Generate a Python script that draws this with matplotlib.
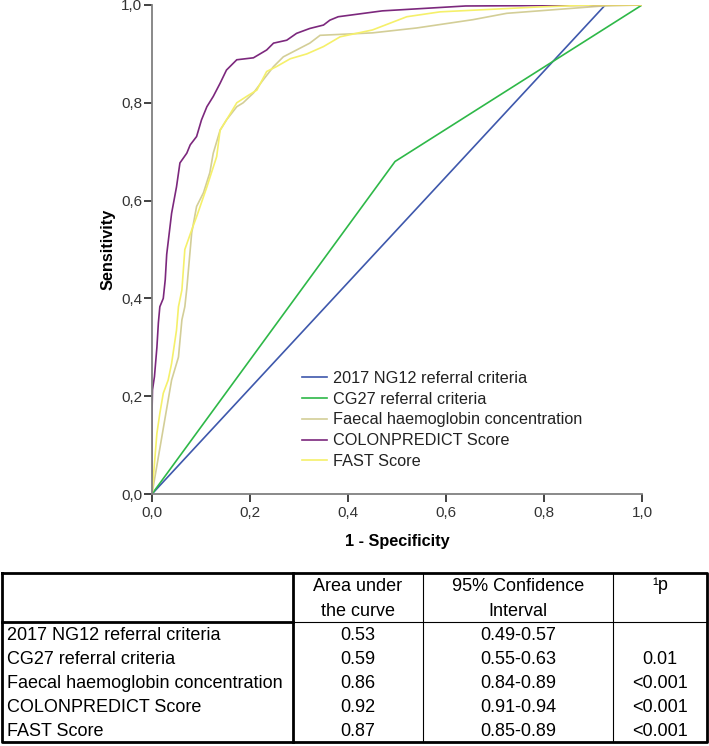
import matplotlib
matplotlib.use("Agg")
import matplotlib.pyplot as plt
from matplotlib.ticker import FuncFormatter

plt.rcParams['font.family'] = ['Liberation Sans', 'DejaVu Sans']

# ---------------- data ----------------
series_names = ["2017 NG12 referral criteria", "CG27 referral criteria",
                "Faecal haemoglobin concentration", "COLONPREDICT Score", "FAST Score"]
series_colors = ["#3E58AC", "#2EB848", "#D3CE97", "#7C287D", "#F5F06A"]

ng12_fpr = [0.0, 0.925, 1.0]
ng12_tpr = [0.0, 1.0, 1.0]

cg27_fpr = [0.0, 0.496, 1.0]
cg27_tpr = [0.0, 0.68, 1.0]

fhb_fpr = [0.0, 0.04, 0.054, 0.061, 0.067, 0.071, 0.081, 0.091, 0.105, 0.118, 0.125, 0.139,
           0.152, 0.173, 0.186, 0.207, 0.227, 0.248, 0.268, 0.295, 0.322, 0.343, 0.45, 0.54,
           0.655, 0.724, 0.92, 1.0]
fhb_tpr = [0.0, 0.233, 0.28, 0.356, 0.383, 0.42, 0.534, 0.588, 0.616, 0.657, 0.697, 0.744,
           0.765, 0.792, 0.80, 0.82, 0.847, 0.874, 0.894, 0.908, 0.922, 0.938, 0.943, 0.953,
           0.97, 0.983, 0.998, 1.0]

colon_fpr = [0.0, 0.0, 0.001, 0.005, 0.01, 0.013, 0.016, 0.023, 0.027, 0.03, 0.04, 0.05, 0.057,
             0.071, 0.078, 0.091, 0.101, 0.112, 0.125, 0.139, 0.152, 0.173, 0.207, 0.234, 0.248,
             0.275, 0.295, 0.322, 0.35, 0.363, 0.38, 0.47, 0.64, 1.0]
colon_tpr = [0.0, 0.165, 0.213, 0.24, 0.30, 0.35, 0.383, 0.40, 0.438, 0.49, 0.574, 0.628, 0.677,
             0.697, 0.714, 0.731, 0.765, 0.792, 0.813, 0.84, 0.867, 0.888, 0.892, 0.908, 0.922,
             0.928, 0.942, 0.952, 0.959, 0.969, 0.976, 0.988, 0.998, 1.0]

fast_fpr = [0.0, 0.01, 0.016, 0.023, 0.033, 0.04, 0.05, 0.054, 0.061, 0.067, 0.081, 0.091, 0.112,
            0.132, 0.139, 0.152, 0.173, 0.193, 0.214, 0.234, 0.254, 0.282, 0.316, 0.35, 0.384,
            0.45, 0.52, 0.588, 0.79, 0.9, 1.0]
fast_tpr = [0.0, 0.124, 0.165, 0.206, 0.233, 0.267, 0.335, 0.383, 0.417, 0.50, 0.54, 0.567, 0.628,
            0.69, 0.744, 0.765, 0.80, 0.813, 0.826, 0.864, 0.874, 0.89, 0.90, 0.915, 0.935,
            0.949, 0.976, 0.986, 0.996, 1.0, 1.0]

ticks = [0.0, 0.2, 0.4, 0.6, 0.8, 1.0]

table_header = ["", "Area under\nthe curve", "95% Confidence\nInterval", "\u00b9p"]
table_auc = ["0.53", "0.59", "0.86", "0.92", "0.87"]
table_ci = ["0.49-0.57", "0.55-0.63", "0.84-0.89", "0.91-0.94", "0.85-0.89"]
table_p = ["", "0.01", "<0.001", "<0.001", "<0.001"]

# ---------------- figure ----------------
W, H = 709, 746
fig = plt.figure(figsize=(W / 100, H / 100), dpi=100)

ax = fig.add_axes([152 / W, 1 - 494 / H, 490 / W, 489 / H])
curves = [(ng12_fpr, ng12_tpr), (cg27_fpr, cg27_tpr), (fhb_fpr, fhb_tpr),
          (colon_fpr, colon_tpr), (fast_fpr, fast_tpr)]
for (fx, ty), name, col in zip(curves, series_names, series_colors):
    ax.plot(fx, ty, color=col, lw=1.2, label=name, solid_joinstyle='miter')

ax.set_xlim(0, 1)
ax.set_ylim(0, 1)
ax.set_xticks(ticks)
ax.set_yticks(ticks)
fmt = FuncFormatter(lambda v, p: f"{v:.1f}".replace(".", ","))
ax.xaxis.set_major_formatter(fmt)
ax.yaxis.set_major_formatter(fmt)
for s in ['top', 'right']:
    ax.spines[s].set_visible(False)
for s in ['left', 'bottom']:
    ax.spines[s].set_color('#808080')
    ax.spines[s].set_linewidth(1.3)
ax.tick_params(direction='out', length=5.5, width=1.3, color='#333333',
               labelsize=11, labelcolor='#333333')
ax.tick_params(axis='x', pad=3)
ax.tick_params(axis='y', pad=1.5)
ax.set_xlabel("1 - Specificity", fontsize=11.7, fontweight='bold', labelpad=10)
ax.set_ylabel("Sensitivity", fontsize=11.7, fontweight='bold', labelpad=4)
ax.patch.set_alpha(0)

leg = ax.legend(loc='upper left', bbox_to_anchor=(0.306, 0.252), frameon=False,
                fontsize=11.7, handlelength=1.55, handletextpad=0.35, labelspacing=0.36,
                borderpad=0, borderaxespad=0)
for t in leg.get_texts():
    t.set_color('#222222')

# ---------------- table ----------------
tab = fig.add_axes([0, 0, 1, 1])
tab.set_xlim(0, W)
tab.set_ylim(H, 0)
tab.axis('off')
tab.patch.set_alpha(0)

L, R, T, HB, B = 2, 707, 573, 622, 742
c1, c2, c3 = 293, 423, 613
thick, thin = 2.0, 0.8
kw = dict(color='black', solid_capstyle='projecting')
tab.plot([L, R, R, L, L], [T, T, B, B, T], lw=thick, **kw)
tab.plot([L, c1], [HB, HB], lw=thick, **kw)
tab.plot([c1, R], [HB, HB], lw=thin, **kw)
tab.plot([c1, c1], [T, B], lw=thick, **kw)
tab.plot([c2, c2], [T, B], lw=thin, **kw)
tab.plot([c3, c3], [T, B], lw=thin, **kw)

fs = 13
centers = [(c1 + c2) / 2, (c2 + c3) / 2, (c3 + R) / 2]
for i, h in enumerate(table_header[1:3]):
    tab.text(centers[i], 599, h, ha='center', va='center', fontsize=fs, linespacing=1.58)
tab.text(centers[2], 586, table_header[3], ha='center', va='center', fontsize=fs)

row_y = [635, 659, 683, 707, 731]
for y, name, a, ci, p in zip(row_y, series_names, table_auc, table_ci, table_p):
    tab.text(7, y, name, ha='left', va='center', fontsize=fs)
    tab.text(centers[0], y, a, ha='center', va='center', fontsize=fs)
    tab.text(centers[1], y, ci, ha='center', va='center', fontsize=fs)
    tab.text(centers[2], y, p, ha='center', va='center', fontsize=fs)

fig.savefig("out.png", dpi=100)
